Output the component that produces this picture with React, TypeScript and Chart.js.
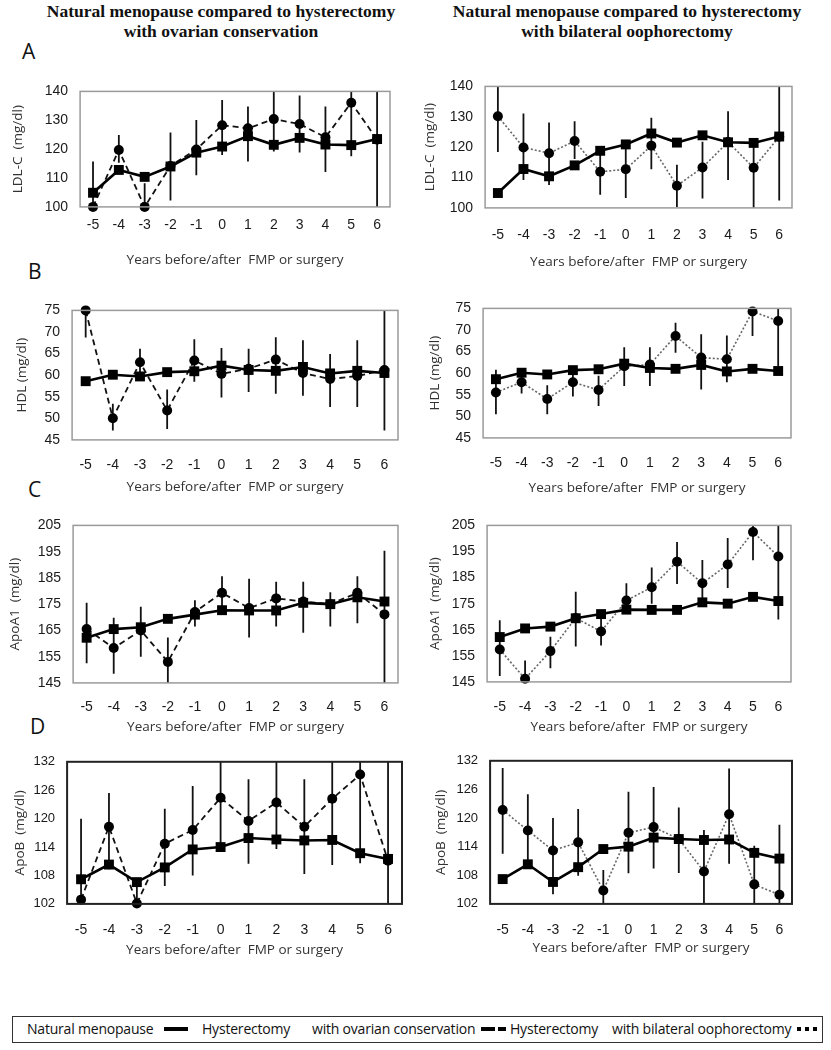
import React, { useEffect, useRef } from "react";
import { Chart, registerables } from "chart.js";
Chart.register(...registerables);

// ---------- data ----------
const years = ["-5", "-4", "-3", "-2", "-1", "0", "1", "2", "3", "4", "5", "6"];

// A: LDL-C (mg/dl)
const ldlNatural = [104.9, 112.8, 110.4, 114.0, 118.8, 120.9, 124.5, 121.5, 123.9, 121.6, 121.4, 123.5];
const ldlOvarian = [100, 119.7, 100, 114.2, 119.9, 128.3, 127.2, 130.4, 128.7, 124.1, 136.1, 123.3];
const ldlOvarianLow = [84.3, 115.3, 91.8, 102.2, 111, 118, 115.7, 119.2, 118.8, 112.1, 117.5, 98];
const ldlOvarianHigh = [115.7, 124.9, 108.2, 125.8, 130.1, 137, 134.8, 141.6, 138.6, 134.8, 154.7, 148];
const ldlBilateral = [130.2, 119.9, 118.0, 122.0, 111.9, 112.7, 120.5, 107.3, 113.3, 121.7, 113.2, 123.4];
const ldlBilateralLow = [118.4, 109.2, 107.5, 116.1, 104.3, 103.3, 112.7, 100.3, 103.1, 109.2, 99, 102.4];
const ldlBilateralHigh = [142, 131.1, 128.1, 128.5, 119.5, 122.1, 129.7, 114.2, 121.8, 131.8, 121, 144.4];

// B: HDL (mg/dl)
const hdlNatural = [58.6, 60.1, 59.7, 60.7, 60.9, 62.2, 61.2, 61.0, 61.9, 60.4, 61.0, 60.5];
const hdlOvarian = [75.0, 50.0, 63.0, 51.8, 63.4, 60.3, 61.5, 63.6, 60.5, 59.1, 59.8, 61.2];
const hdlOvarianLow = [68.7, 47.2, 59.2, 47.5, 58.5, 54.8, 56.1, 55.7, 55.2, 52.6, 52.6, 47.2];
const hdlOvarianHigh = [81.3, 53.4, 66.1, 56.7, 68.3, 66.3, 66.1, 68.8, 68.1, 64.9, 68.1, 76];
const hdlBilateral = [55.5, 57.9, 54.0, 57.9, 56.1, 61.6, 62.0, 68.6, 63.6, 63.2, 74.3, 72.1];
const hdlBilateralLow = [50.5, 55.3, 50.5, 54.6, 52.4, 57.0, 57.0, 64.7, 56.2, 57.9, 68.6, 60.5];
const hdlBilateralHigh = [60.8, 60.5, 57.2, 60.1, 59.4, 66.0, 66.0, 71.7, 69.0, 68.7, 80.3, 83.7];

// C: ApoA1 (mg/dl)
const apoA1Natural = [162.2, 165.5, 166.2, 169.4, 171.0, 172.7, 172.6, 172.6, 175.5, 175.0, 177.6, 176.0];
const apoA1Ovarian = [165.5, 158.3, 165.0, 153.0, 172.0, 179.3, 173.5, 177.2, 176.0, 175.0, 179.3, 171.1];
const apoA1OvarianLow = [152.5, 148.5, 155.0, 144.0, 166.5, 172.0, 162.3, 166.5, 164.1, 166.5, 167.7, 145];
const apoA1OvarianHigh = [175.5, 169.8, 174.0, 162.3, 176.5, 185.6, 184.7, 183.5, 183.5, 179.5, 185.6, 195.3];
const apoA1Bilateral = [157.4, 146.2, 156.8, 169.5, 164.3, 176.2, 181.3, 191.1, 182.8, 190.0, 202.5, 193.1];
const apoA1BilateralLow = [147.3, 139, 150.2, 158.6, 159.0, 171.6, 175.0, 182.5, 175.3, 181.0, 191.6, 168.9];
const apoA1BilateralHigh = [168.6, 153.2, 162.3, 179.6, 170.7, 182.8, 188.9, 198.6, 191.7, 200.2, 213.5, 217];

// D: ApoB (mg/dl)
const apoBNatural = [107.2, 110.3, 106.6, 109.7, 113.5, 114.0, 115.9, 115.6, 115.4, 115.5, 112.7, 111.5];
const apoBOvarian = [102.9, 118.3, 102.1, 114.7, 117.6, 124.4, 119.5, 123.4, 118.3, 124.2, 129.3, 111.1];
const apoBOvarianLow = [85.9, 109.3, 98, 105.8, 108.0, 114.0, 110.5, 113.6, 108.3, 110.2, 110.6, 81];
const apoBOvarianHigh = [120.0, 125.4, 106, 122.1, 126.9, 134.8, 128.3, 133.2, 128.3, 138.2, 148, 141];
const apoBBilateral = [121.7, 117.4, 113.2, 114.9, 104.8, 116.9, 118.1, 115.6, 108.8, 120.8, 106.1, 103.9];
const apoBBilateralLow = [112.5, 110.2, 104, 107.9, 100.3, 108.4, 109.4, 108.5, 100.1, 110.4, 98, 89.2];
const apoBBilateralHigh = [130.5, 125, 120, 121.9, 109.1, 125.5, 126.5, 122.2, 117.5, 130.4, 114.2, 118.6];

const xTitle = "Years before/after  FMP or surgery";
const headerLeft = ["Natural menopause compared to hysterectomy", "with ovarian conservation"];
const headerRight = ["Natural menopause compared to hysterectomy", "with bilateral oophorectomy"];
const legendNatural = "Natural menopause";
const legendOvarian = ["Hysterectomy", "with ovarian conservation"];
const legendBilateral = ["Hysterectomy", "with bilateral oophorectomy"];

// ---------- panel ----------
type PanelProps = {
  box: [number, number, number, number];
  yMin: number;
  yMax: number;
  yStep: number;
  yTitle: string;
  natural: number[];
  other: number[];
  low: number[];
  high: number[];
  dotted: boolean;
  yTitleDist: number;
  xTickDist: number;
  xTitleDist: number;
  boxColor: string;
  boxWidth: number;
  yFont: number;
};

const TITLE_FONT = 13.5;
const TICK_FONT = 14;

function Panel(p: PanelProps) {
  const ref = useRef<HTMLCanvasElement>(null);
  const [L, T, R, B] = p.box;
  const lh = TITLE_FONT * 1.2;
  const W = p.yTitleDist + lh / 2;
  const H = p.xTitleDist + lh / 2;
  const padTop = 14;
  const padRight = 14;
  const cw = R - L + W + padRight;
  const ch = B - T + padTop + H;

  useEffect(() => {
    if (!ref.current) return;
    const errorBars = {
      id: "errorBars",
      beforeDatasetsDraw(chart: any) {
        const { ctx, chartArea: a, scales } = chart;
        const x = scales.x;
        const y = scales.y;
        ctx.save();
        ctx.beginPath();
        ctx.rect(a.left, a.top, a.right - a.left, a.bottom - a.top);
        ctx.clip();
        ctx.strokeStyle = "#111";
        ctx.lineWidth = 1.8;
        p.low.forEach((lo, i) => {
          const px = x.getPixelForValue(i);
          ctx.beginPath();
          ctx.moveTo(px, y.getPixelForValue(lo));
          ctx.lineTo(px, y.getPixelForValue(p.high[i]));
          ctx.stroke();
        });
        ctx.restore();
      },
    };
    const frame = {
      id: "frame",
      afterDraw(chart: any) {
        const { ctx, chartArea: a } = chart;
        ctx.save();
        ctx.strokeStyle = p.boxColor;
        ctx.lineWidth = p.boxWidth;
        ctx.strokeRect(a.left, a.top, a.right - a.left, a.bottom - a.top);
        ctx.restore();
      },
    };
    const chart = new Chart(ref.current, {
      type: "line",
      data: {
        labels: years,
        datasets: [
          {
            label: "Natural menopause",
            data: p.natural,
            borderColor: "#000",
            backgroundColor: "#000",
            borderWidth: 2.6,
            pointStyle: "rect",
            pointRadius: 7,
            pointBorderWidth: 0,
            pointBackgroundColor: "#000",
            clip: false as any,
          },
          {
            label: p.dotted ? "Hysterectomy with bilateral oophorectomy" : "Hysterectomy with ovarian conservation",
            data: p.other,
            borderColor: p.dotted ? "#666" : "#111",
            backgroundColor: "#000",
            borderWidth: p.dotted ? 1.6 : 1.8,
            borderDash: p.dotted ? [2, 2] : [6, 4],
            pointStyle: "circle",
            pointRadius: 5,
            pointBorderWidth: 0,
            pointBackgroundColor: "#000",
            clip: false as any,
          },
        ],
      },
      options: {
        animation: false,
        responsive: false,
        devicePixelRatio: 1,
        layout: { padding: { left: 0, top: padTop, right: padRight, bottom: 0 } },
        plugins: { legend: { display: false }, tooltip: { enabled: false } },
        scales: {
          x: {
            type: "category",
            offset: true,
            grid: { display: false, drawTicks: false },
            border: { display: false },
            ticks: {
              color: "#1a1a1a",
              font: { family: "'Liberation Sans', Arial, sans-serif", size: TICK_FONT },
              padding: p.xTickDist - (TICK_FONT * 1.2) / 2,
              maxRotation: 0,
              autoSkip: false,
            },
            title: {
              display: true,
              text: xTitle,
              color: "#333",
              font: { family: "'Open Sans', sans-serif", size: TITLE_FONT },
              padding: 0,
            },
            afterFit: (s: any) => {
              s.height = H;
            },
          },
          y: {
            min: p.yMin,
            max: p.yMax,
            grid: { display: false, drawTicks: false },
            border: { display: false },
            ticks: {
              stepSize: p.yStep,
              color: "#1a1a1a",
              font: { family: "'Liberation Sans', Arial, sans-serif", size: p.yFont },
              padding: 12,
            },
            title: {
              display: true,
              text: p.yTitle,
              color: "#333",
              font: { family: "'Open Sans', sans-serif", size: TITLE_FONT },
              padding: 0,
            },
            afterFit: (s: any) => {
              s.width = W;
            },
          },
        },
      } as any,
      plugins: [errorBars, frame],
    });
    return () => chart.destroy();
  }, []);

  return (
    <canvas
      ref={ref}
      width={cw}
      height={ch}
      style={{ position: "absolute", left: L - W, top: T - padTop, width: cw, height: ch }}
    />
  );
}

const letterStyle = (x: number, cy: number): React.CSSProperties => ({
  position: "absolute",
  left: x,
  top: cy - 0.531 * 21,
  fontFamily: "'Open Sans', sans-serif",
  fontSize: 21,
  lineHeight: "21px",
  color: "#111",
});

function Header({ cx, lines }: { cx: number; lines: string[] }) {
  return (
    <div
      style={{
        position: "absolute",
        left: cx - 250,
        width: 500,
        top: 1,
        textAlign: "center",
        fontFamily: "'Liberation Serif', 'Times New Roman', serif",
        fontWeight: "bold",
        fontSize: 17.5,
        lineHeight: "20px",
        color: "#111",
      }}
    >
      {lines.map((l, i) => (
        <div key={i}>{l}</div>
      ))}
    </div>
  );
}

const legTextStyle = (x: number): React.CSSProperties => ({
  position: "absolute",
  left: x,
  top: 1029 - 10,
  height: 20,
  lineHeight: "20px",
  fontFamily: "'Open Sans', sans-serif",
  fontSize: 14,
  letterSpacing: -0.2,
  color: "#111",
  whiteSpace: "pre",
});

const bar = (x: number, w: number, h: number): React.CSSProperties => ({
  position: "absolute",
  left: x,
  width: w,
  top: 1029 - h / 2,
  height: h,
  background: "#000",
});

export default function App() {
  useEffect(() => {
    document.body.style.margin = "0";
    document.body.style.background = "#fff";
  }, []);

  const panels: PanelProps[] = [
    { box: [80, 85, 390, 207], yMin: 100, yMax: 140, yStep: 10, yTitle: "LDL-C  (mg/dl)", natural: ldlNatural, other: ldlOvarian, low: ldlOvarianLow, high: ldlOvarianHigh, dotted: false, yTitleDist: 62, xTickDist: 18, xTitleDist: 53, boxColor: "#9a9a9a", boxWidth: 1.5, yFont: 14 },
    { box: [485, 80, 792, 208], yMin: 100, yMax: 140, yStep: 10, yTitle: "LDL-C  (mg/dl)", natural: ldlNatural, other: ldlBilateral, low: ldlBilateralLow, high: ldlBilateralHigh, dotted: true, yTitleDist: 55, xTickDist: 27, xTitleDist: 54, boxColor: "#9a9a9a", boxWidth: 1.5, yFont: 14 },
    { box: [72, 304, 398, 440], yMin: 45, yMax: 75, yStep: 5, yTitle: "HDL (mg/dl)", natural: hdlNatural, other: hdlOvarian, low: hdlOvarianLow, high: hdlOvarianHigh, dotted: false, yTitleDist: 50, xTickDist: 25, xTitleDist: 47, boxColor: "#9a9a9a", boxWidth: 1.5, yFont: 14 },
    { box: [483, 302, 791, 438], yMin: 45, yMax: 75, yStep: 5, yTitle: "HDL (mg/dl)", natural: hdlNatural, other: hdlBilateral, low: hdlBilateralLow, high: hdlBilateralHigh, dotted: true, yTitleDist: 48, xTickDist: 25, xTitleDist: 50, boxColor: "#9a9a9a", boxWidth: 1.5, yFont: 14 },
    { box: [73, 519, 398, 683], yMin: 145, yMax: 205, yStep: 10, yTitle: "ApoA1  (mg/dl)", natural: apoA1Natural, other: apoA1Ovarian, low: apoA1OvarianLow, high: apoA1OvarianHigh, dotted: false, yTitleDist: 58, xTickDist: 24, xTitleDist: 44, boxColor: "#9a9a9a", boxWidth: 1.5, yFont: 14 },
    { box: [487, 519, 791, 682], yMin: 145, yMax: 205, yStep: 10, yTitle: "ApoA1  (mg/dl)", natural: apoA1Natural, other: apoA1Bilateral, low: apoA1BilateralLow, high: apoA1BilateralHigh, dotted: true, yTitleDist: 52, xTickDist: 25, xTitleDist: 45, boxColor: "#9a9a9a", boxWidth: 1.5, yFont: 14 },
    { box: [67, 756, 402, 904], yMin: 102, yMax: 132, yStep: 6, yTitle: "ApoB  (mg/dl)", natural: apoBNatural, other: apoBOvarian, low: apoBOvarianLow, high: apoBOvarianHigh, dotted: false, yTitleDist: 47, xTickDist: 26, xTitleDist: 46, boxColor: "#222", boxWidth: 2, yFont: 13 },
    { box: [490, 755, 792, 904], yMin: 102, yMax: 132, yStep: 6, yTitle: "ApoB  (mg/dl)", natural: apoBNatural, other: apoBBilateral, low: apoBBilateralLow, high: apoBBilateralHigh, dotted: true, yTitleDist: 49, xTickDist: 26, xTitleDist: 44, boxColor: "#222", boxWidth: 2, yFont: 13 },
  ];

  return (
    <div style={{ position: "relative", width: 831, height: 1050, background: "#fff", overflow: "hidden" }}>
      <Header cx={221} lines={headerLeft} />
      <Header cx={627} lines={headerRight} />
      <div style={letterStyle(22, 52)}>A</div>
      <div style={letterStyle(28, 272)}>B</div>
      <div style={letterStyle(28, 490)}>C</div>
      <div style={letterStyle(30, 727)}>D</div>
      {panels.map((p, i) => (
        <Panel key={i} {...p} />
      ))}
      <div
        style={{
          position: "absolute",
          left: 12,
          top: 1016,
          width: 811,
          height: 27,
          border: "1.5px solid #333",
          boxSizing: "border-box",
        }}
      />
      <div style={legTextStyle(27)}>{legendNatural}</div>
      <div style={bar(164, 24, 4)} />
      <div style={legTextStyle(202)}>{legendOvarian[0]}</div>
      <div style={legTextStyle(312)}>{legendOvarian[1]}</div>
      <div style={bar(481, 14, 4)} />
      <div style={bar(498, 8, 4)} />
      <div style={legTextStyle(510)}>{legendBilateral[0]}</div>
      <div style={legTextStyle(612)}>{legendBilateral[1]}</div>
      <div style={bar(797, 4, 4)} />
      <div style={bar(805, 4, 4)} />
      <div style={bar(813, 4, 4)} />
    </div>
  );
}
